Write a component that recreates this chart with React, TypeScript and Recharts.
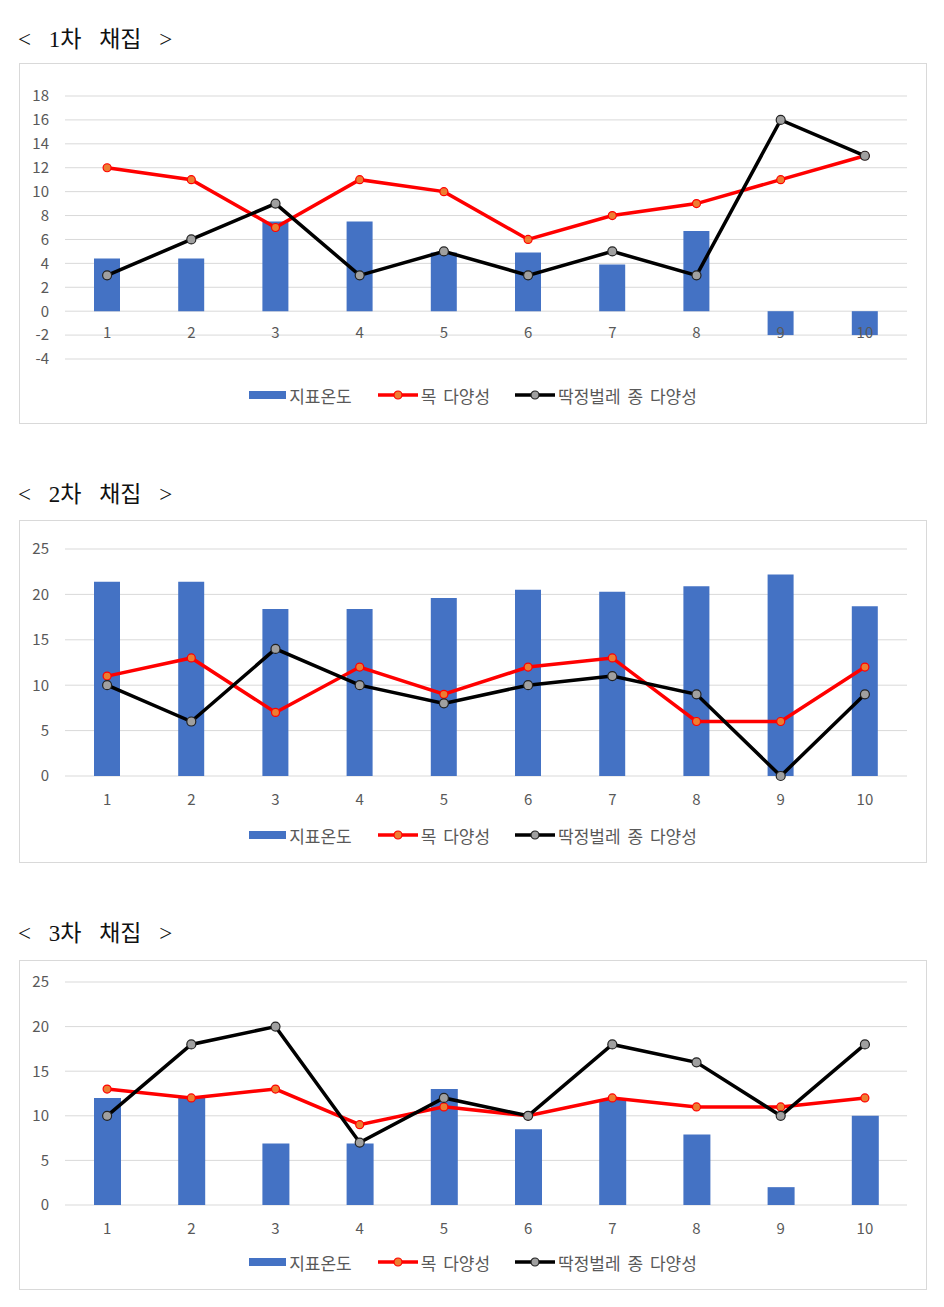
import { ComposedChart, Bar, Line, XAxis, YAxis, CartesianGrid, Legend } from 'recharts';

const categories = ['1', '2', '3', '4', '5', '6', '7', '8', '9', '10'];
const seriesNames = ['지표온도', '목 다양성', '딱정벌레 종 다양성'];

// 1차 채집
const temp1 = [4.4, 4.4, 7.5, 7.5, 4.9, 4.9, 3.9, 6.7, -2, -2];
const order1 = [12, 11, 7, 11, 10, 6, 8, 9, 11, 13];
const beetle1 = [3, 6, 9, 3, 5, 3, 5, 3, 16, 13];
const ticks1 = [-4, -2, 0, 2, 4, 6, 8, 10, 12, 14, 16, 18];

// 2차 채집
const temp2 = [21.4, 21.4, 18.4, 18.4, 19.6, 20.5, 20.3, 20.9, 22.2, 18.7];
const order2 = [11, 13, 7, 12, 9, 12, 13, 6, 6, 12];
const beetle2 = [10, 6, 14, 10, 8, 10, 11, 9, 0, 9];

// 3차 채집
const temp3 = [12, 12, 6.9, 6.9, 13, 8.5, 11.8, 7.9, 2, 10];
const order3 = [13, 12, 13, 9, 11, 10, 12, 11, 11, 12];
const beetle3 = [10, 18, 20, 7, 12, 10, 18, 16, 10, 18];
const ticks23 = [0, 5, 10, 15, 20, 25];

const BLUE = '#4472C4';
const RED = '#FF0000';
const ORANGE = '#ED7D31';
const GRAY_DOT = '#A0A0A0';
const GRID = '#D9D9D9';
const TEXT = '#595959';
const FONT = "'Noto Sans CJK KR', 'Noto Sans', sans-serif";
const CHART_W = 908;

function buildRows(temp: number[], order: number[], beetle: number[]) {
  return categories.map((cat, i) => ({ cat, temp: temp[i], order: order[i], beetle: beetle[i] }));
}

function LegendRow() {
  return (
    <div
      style={{
        display: 'flex',
        justifyContent: 'center',
        alignItems: 'center',
        fontFamily: FONT,
        fontSize: 17,
        color: TEXT,
        whiteSpace: 'pre',
        wordSpacing: 3,
        height: 20,
      }}
    >
      <span style={{ display: 'inline-block', width: 37, height: 8, background: BLUE, marginRight: 3 }} />
      <span>{seriesNames[0]}</span>
      <svg width={40} height={12} style={{ marginLeft: 26, marginRight: 3 }}>
        <line x1={0} y1={6} x2={40} y2={6} stroke={RED} strokeWidth={3.5} />
        <circle cx={20} cy={6} r={4} fill={ORANGE} stroke={RED} strokeWidth={1.2} />
      </svg>
      <span>{seriesNames[1]}</span>
      <svg width={40} height={12} style={{ marginLeft: 25, marginRight: 3 }}>
        <line x1={0} y1={6} x2={40} y2={6} stroke="#000" strokeWidth={3.5} />
        <circle cx={20} cy={6} r={4} fill={GRAY_DOT} stroke="#222" strokeWidth={1.2} />
      </svg>
      <span>{seriesNames[2]}</span>
    </div>
  );
}

interface PanelProps {
  title: string;
  titleTop: number;
  top: number;
  height: number;
  plotTop: number;
  bottomSpace: number;
  legendTop: number;
  labelDy: number;
  domain: [number, number];
  ticks: number[];
  rows: ReturnType<typeof buildRows>;
  barSize: number;
}

function Panel({ title, titleTop, top, height, plotTop, bottomSpace, legendTop, labelDy, domain, ticks, rows, barSize }: PanelProps) {
  return (
    <>
      <div
        style={{
          position: 'absolute',
          left: 18,
          top: titleTop,
          fontFamily: "'Liberation Serif', 'Noto Sans CJK KR', serif",
          fontSize: 23,
          color: '#111',
          whiteSpace: 'pre',
          wordSpacing: 12,
          lineHeight: '26px',
        }}
      >
        {title}
      </div>
      <div
        style={{
          position: 'absolute',
          left: 19,
          top,
          width: CHART_W,
          height,
          border: `1px solid ${GRID}`,
          boxSizing: 'border-box',
        }}
      />
      <div style={{ position: 'absolute', left: 19, top }}>
        <ComposedChart width={CHART_W} height={height} data={rows} margin={{ top: plotTop, right: 20, bottom: 0, left: 0 }}>
          <CartesianGrid vertical={false} stroke={GRID} strokeWidth={1} />
          <XAxis
            dataKey="cat"
            height={bottomSpace}
            axisLine={false}
            tickLine={false}
            tickSize={0}
            tickMargin={0}
            interval={0}
            tick={(p: any) => (
              <text
                x={p.x}
                y={p.y + labelDy}
                textAnchor="middle"
                dominantBaseline="central"
                fill={TEXT}
                fontSize={15}
                fontFamily={FONT}
              >
                {p.payload.value}
              </text>
            )}
          />
          <YAxis
            width={46}
            domain={domain}
            ticks={ticks}
            interval={0}
            axisLine={false}
            tickLine={false}
            tickSize={0}
            tickMargin={16}
            tick={{ fill: TEXT, fontSize: 15, fontFamily: FONT }}
          />
          <Legend
            layout="horizontal"
            verticalAlign="middle"
            align="center"
            wrapperStyle={{ top: legendTop, left: 0, width: CHART_W, height: 20 }}
            content={() => <LegendRow />}
          />
          <Bar dataKey="temp" name={seriesNames[0]} fill={BLUE} barSize={barSize} isAnimationActive={false} />
          <Line
            dataKey="order"
            name={seriesNames[1]}
            stroke={RED}
            strokeWidth={3.5}
            dot={{ r: 4, fill: ORANGE, stroke: RED, strokeWidth: 1.2 }}
            activeDot={false}
            isAnimationActive={false}
          />
          <Line
            dataKey="beetle"
            name={seriesNames[2]}
            stroke="#000"
            strokeWidth={3.5}
            dot={{ r: 4.5, fill: GRAY_DOT, stroke: '#222', strokeWidth: 1.2 }}
            activeDot={false}
            isAnimationActive={false}
          />
        </ComposedChart>
      </div>
    </>
  );
}

export default function App() {
  return (
    <div style={{ position: 'absolute', left: 0, top: 0, width: 944, height: 1307, background: '#fff' }}>
      <Panel
        title="< 1차 채집 >"
        titleTop={27}
        top={63}
        height={361}
        plotTop={33}
        bottomSpace={65}
        legendTop={322}
        labelDy={-28}
        domain={[-4, 18]}
        ticks={ticks1}
        rows={buildRows(temp1, order1, beetle1)}
        barSize={26}
      />
      <Panel
        title="< 2차 채집 >"
        titleTop={482}
        top={520}
        height={343}
        plotTop={29}
        bottomSpace={87}
        legendTop={305}
        labelDy={22}
        domain={[0, 25]}
        ticks={ticks23}
        rows={buildRows(temp2, order2, beetle2)}
        barSize={26}
      />
      <Panel
        title="< 3차 채집 >"
        titleTop={921}
        top={960}
        height={330}
        plotTop={22}
        bottomSpace={85}
        legendTop={292}
        labelDy={22}
        domain={[0, 25]}
        ticks={ticks23}
        rows={buildRows(temp3, order3, beetle3)}
        barSize={27}
      />
    </div>
  );
}
